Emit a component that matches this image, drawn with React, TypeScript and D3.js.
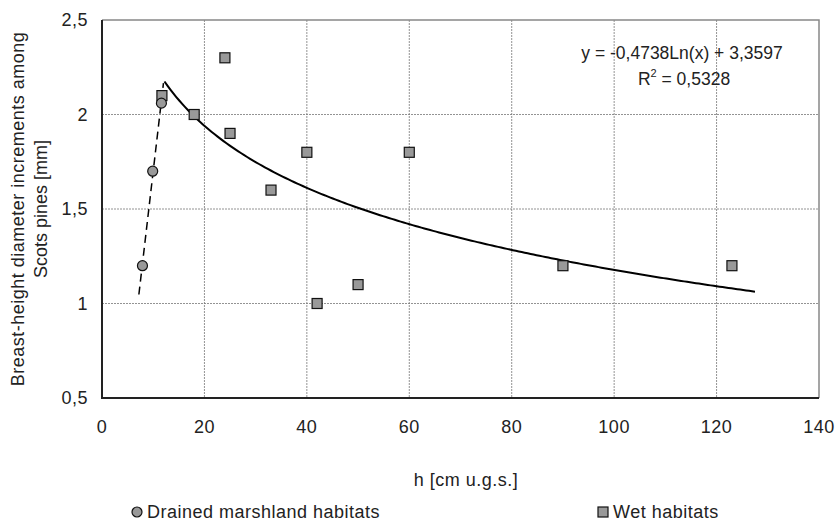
import * as d3 from "d3";

// data
const drainedX = [7.9, 9.9, 11.6];
const drainedY = [1.2, 1.7, 2.06];

const wetX = [11.7, 18, 24, 25, 33, 40, 42, 50, 60, 90, 123];
const wetY = [2.1, 2.0, 2.3, 1.9, 1.6, 1.8, 1.0, 1.1, 1.8, 1.2, 1.2];

const xTicks = [0, 20, 40, 60, 80, 100, 120, 140];
const yTicks = [0.5, 1, 1.5, 2, 2.5];

// log trend for the wet habitats (from the label)
const logA = -0.4738;
const logB = 3.3597;
const logRange = [12.2, 127.5];
// linear trend for drained habitats drawn over this x span
const linRange = [7.2, 12];

const W = 836;
const H = 521;
const m = { left: 102, right: 819, top: 20, bottom: 398 };
const font = "Liberation Sans, Arial, sans-serif";

export default function App() {
  const x = d3.scaleLinear().domain([0, 140]).range([m.left, m.right]);
  const y = d3.scaleLinear().domain([0.5, 2.5]).range([m.bottom, m.top]);

  // least squares line through the drained points
  const mx = d3.mean(drainedX)!;
  const my = d3.mean(drainedY)!;
  const sxy = d3.sum(drainedX, (v, i) => (v - mx) * (drainedY[i] - my));
  const sxx = d3.sum(drainedX, v => (v - mx) ** 2);
  const slope = sxy / sxx;
  const lin = (v: number) => my + slope * (v - mx);

  const line = d3.line<number>().x(v => x(v)).y(v => y(logA * Math.log(v) + logB));
  const curveXs = d3.range(0, 201).map(i => logRange[0] + (logRange[1] - logRange[0]) * i / 200);

  const sq = 10;
  const txt = { fontSize: 18, letterSpacing: 0.5, fill: "#222" };

  return (
    <svg width={W} height={H} style={{ position: "absolute", left: 0, top: 0, background: "#fff" }} fontFamily={font}>
      {/* grid */}
      <g stroke="#777" strokeWidth={0.8} strokeDasharray="2,1">
        {xTicks.slice(1, -1).map(t => (
          <line key={"gx" + t} x1={x(t)} x2={x(t)} y1={m.top} y2={m.bottom} />
        ))}
        {yTicks.slice(1, -1).map(t => (
          <line key={"gy" + t} x1={m.left} x2={m.right} y1={y(t)} y2={y(t)} />
        ))}
      </g>
      {/* frame */}
      <path d={`M${m.left},${m.top}H${m.right}V${m.bottom}`} fill="none" stroke="#888" strokeWidth={1.5} />
      <path d={`M${m.left},${m.top}V${m.bottom}H${m.right}`} fill="none" stroke="#222" strokeWidth={2} />

      {/* y tick labels */}
      <g {...txt} textAnchor="end">
        {yTicks.map(t => (
          <text key={t} x={88} y={y(t)} dy="0.35em">{d3.format(".1~f")(t).replace(".", ",")}</text>
        ))}
      </g>
      {/* x tick labels */}
      <g {...txt} textAnchor="middle">
        {xTicks.map(t => (
          <text key={t} x={x(t)} y={427} dy="0.35em">{t}</text>
        ))}
      </g>

      {/* axis titles */}
      <text {...txt} x={466} y={486} textAnchor="middle">h [cm u.g.s.]</text>
      <g transform={`translate(0,${(m.top + m.bottom) / 2}) rotate(-90)`} {...txt} textAnchor="middle">
        <text x={0} y={24}>Breast-height diameter increments among</text>
        <text x={0} y={47} letterSpacing={0}>Scots pines [mm]</text>
      </g>

      {/* trend lines */}
      <path d={line(curveXs)!} fill="none" stroke="#000" strokeWidth={2} />
      <line x1={x(linRange[0])} y1={y(lin(linRange[0]))} x2={x(linRange[1])} y2={y(lin(linRange[1]))}
        stroke="#000" strokeWidth={1.5} strokeDasharray="8,5" />

      {/* wet habitats */}
      <g fill="#999" stroke="#111" strokeWidth={1.2}>
        {wetX.map((v, i) => (
          <rect key={i} x={x(v) - sq / 2} y={y(wetY[i]) - sq / 2} width={sq} height={sq} />
        ))}
      </g>
      {/* drained marshland */}
      <g fill="#999" stroke="#111" strokeWidth={1.2}>
        {drainedX.map((v, i) => (
          <circle key={i} cx={x(v)} cy={y(drainedY[i])} r={5} />
        ))}
      </g>

      {/* equation */}
      <g fontSize={17.5} fill="#222" textAnchor="middle">
        <text x={682} y={59}>y = -0,4738Ln(x) + 3,3597</text>
        <text x={684} y={85}>R<tspan dy={-8} fontSize={11}>2</tspan><tspan dy={8}> = 0,5328</tspan></text>
      </g>

      {/* legend */}
      <g {...txt}>
        <circle cx={137} cy={512} r={5} fill="#999" stroke="#111" strokeWidth={1.2} />
        <text x={147} y={512} dy="0.35em">Drained marshland habitats</text>
        <rect x={598} y={507} width={10} height={10} fill="#999" stroke="#111" strokeWidth={1.2} />
        <text x={613} y={512} dy="0.35em">Wet habitats</text>
      </g>
    </svg>
  );
}
